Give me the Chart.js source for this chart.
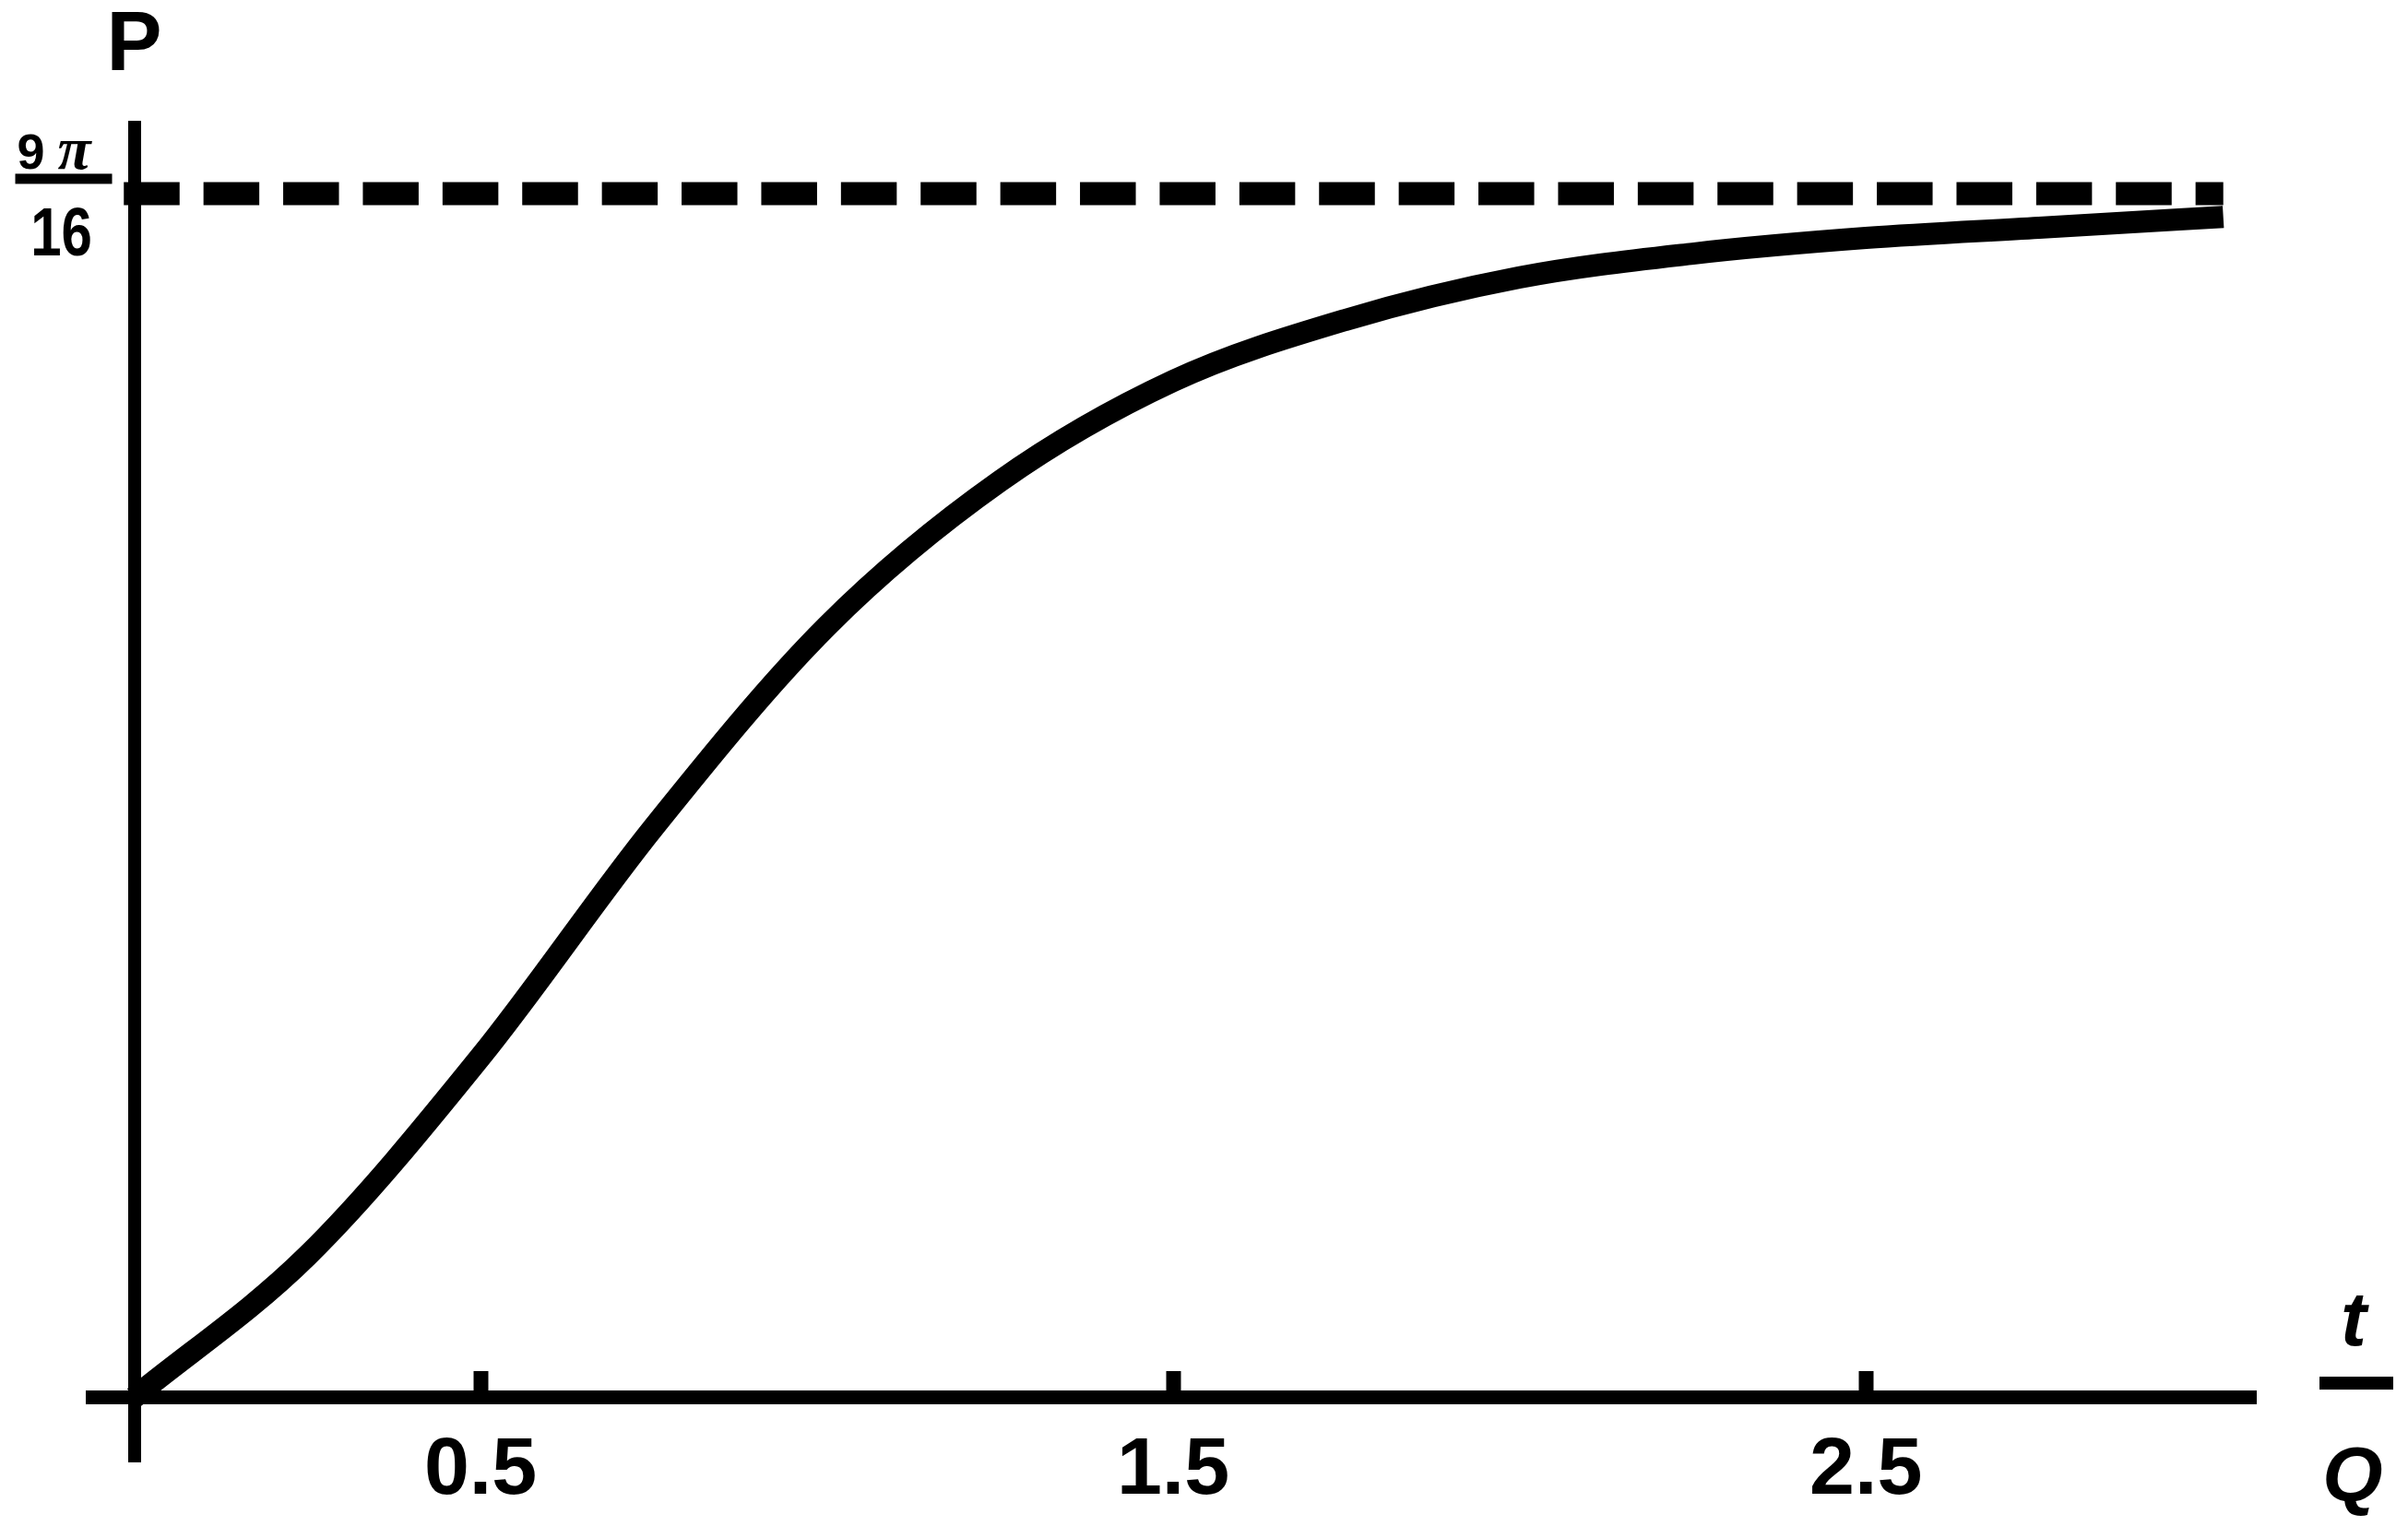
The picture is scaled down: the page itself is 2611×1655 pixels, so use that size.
<!DOCTYPE html>
<html lang="en">
<head>
  <meta charset="UTF-8">
  <title>P against t/Q</title>
  <script src="https://cdn.jsdelivr.net/npm/chart.js@4"></script>
  <style>
    html, body {
      margin: 0;
      padding: 0;
      background: #fff;
    }
    canvas {
      display: block;
    }
  </style>
</head>
<body>
  <canvas id="chart" width="2611" height="1655"></canvas>

  <script>
    // values
    const tValues = [0, 0.25, 0.5, 0.75, 1.0, 1.25, 1.5, 1.75, 2.0, 2.25, 2.5, 2.75, 3.016];
    const pValues = [0, 0.208, 0.500, 0.837, 1.132, 1.345, 1.492, 1.582, 1.644, 1.679, 1.702, 1.717, 1.733];
    const limitValue = 9 * Math.PI / 16;
    const limitRange = [-0.015, 3.016];
    const xTicks = [0.5, 1.5, 2.5];
    const yTicks = [limitValue];

    const fontSans = "'Liberation Sans', Arial, sans-serif";
    const fontSerif = "'Liberation Serif', 'Times New Roman', serif";

    // axis names and the fraction tick label, placed from the scales
    const axisText = {
      id: 'axisText',
      afterDraw(chart) {
        const { ctx, chartArea } = chart;
        const x = chart.scales.x;
        const y = chart.scales.y;
        const x0 = x.getPixelForValue(0);
        const y0 = y.getPixelForValue(0);
        const yLim = y.getPixelForValue(yTicks[0]);

        ctx.save();
        ctx.fillStyle = '#000';
        ctx.textBaseline = 'alphabetic';

        // P above the vertical axis
        ctx.font = 'bold 90px ' + fontSans;
        ctx.textAlign = 'center';
        ctx.fillText('P', x0, chartArea.top - 62);

        // 9 pi / 16 at the limit tick
        ctx.fillRect(x0 - 129, yLim - 21.5, 105, 11);
        ctx.textAlign = 'left';
        ctx.font = 'bold 54px ' + fontSans;
        ctx.fillText('9', x0 - 127, yLim - 27);
        ctx.font = 'italic bold 66px ' + fontSerif;
        ctx.fillText('\u03C0', x0 - 83, yLim - 27);
        ctx.save();
        ctx.translate(x0 - 79, yLim + 67);
        ctx.scale(1, 1.22);
        ctx.textAlign = 'center';
        ctx.font = 'bold 60px ' + fontSans;
        ctx.fillText('16', 0, 0);
        ctx.restore();

        // t / Q at the end of the horizontal axis
        const fx = chartArea.right + 109;
        ctx.fillRect(fx - 40, y0 - 22.5, 80, 14);
        ctx.textAlign = 'center';
        ctx.font = 'italic bold 84px ' + fontSans;
        ctx.fillText('t', fx - 3, y0 - 57);
        ctx.fillText('Q', fx - 4, y0 + 112);

        ctx.restore();
      }
    };

    const ctx = document.getElementById('chart').getContext('2d');

    new Chart(ctx, {
      type: 'line',
      data: {
        datasets: [
          {
            label: 'P',
            data: tValues.map((t, i) => ({ x: t, y: pValues[i] })),
            borderColor: '#000',
            borderWidth: 24,
            borderCapStyle: 'butt',
            borderJoinStyle: 'round',
            cubicInterpolationMode: 'monotone',
            pointRadius: 0,
            fill: false
          },
          {
            label: 'limit',
            data: limitRange.map(t => ({ x: t, y: limitValue })),
            borderColor: '#000',
            borderWidth: 25,
            borderCapStyle: 'butt',
            borderDash: [60.5, 25.9],
            pointRadius: 0,
            fill: false
          }
        ]
      },
      options: {
        responsive: false,
        devicePixelRatio: 1,
        animation: false,
        layout: {
          padding: { left: 100, right: 165, top: 138, bottom: 70 }
        },
        plugins: {
          legend: { display: false },
          tooltip: { enabled: false }
        },
        scales: {
          x: {
            type: 'linear',
            min: -0.0606,
            max: 3.063,
            position: { y: 0 },
            border: { display: true, color: '#000', width: 15 },
            grid: {
              display: true,
              drawOnChartArea: false,
              drawTicks: true,
              tickLength: -36,
              tickWidth: 16,
              tickColor: '#000'
            },
            ticks: {
              color: '#000',
              font: { family: fontSans, weight: 'bold', size: 88 },
              padding: 63,
              maxRotation: 0,
              autoSkip: false,
              callback: v => String(v)
            },
            afterBuildTicks: axis => {
              axis.ticks = xTicks.map(v => ({ value: v }));
            }
          },
          y: {
            type: 'linear',
            min: -0.094,
            max: 1.8645,
            position: { x: 0 },
            border: { display: true, color: '#000', width: 14 },
            grid: { display: false },
            ticks: { display: false },
            afterBuildTicks: axis => {
              axis.ticks = yTicks.map(v => ({ value: v }));
            }
          }
        }
      },
      plugins: [axisText]
    });
  </script>
</body>
</html>
